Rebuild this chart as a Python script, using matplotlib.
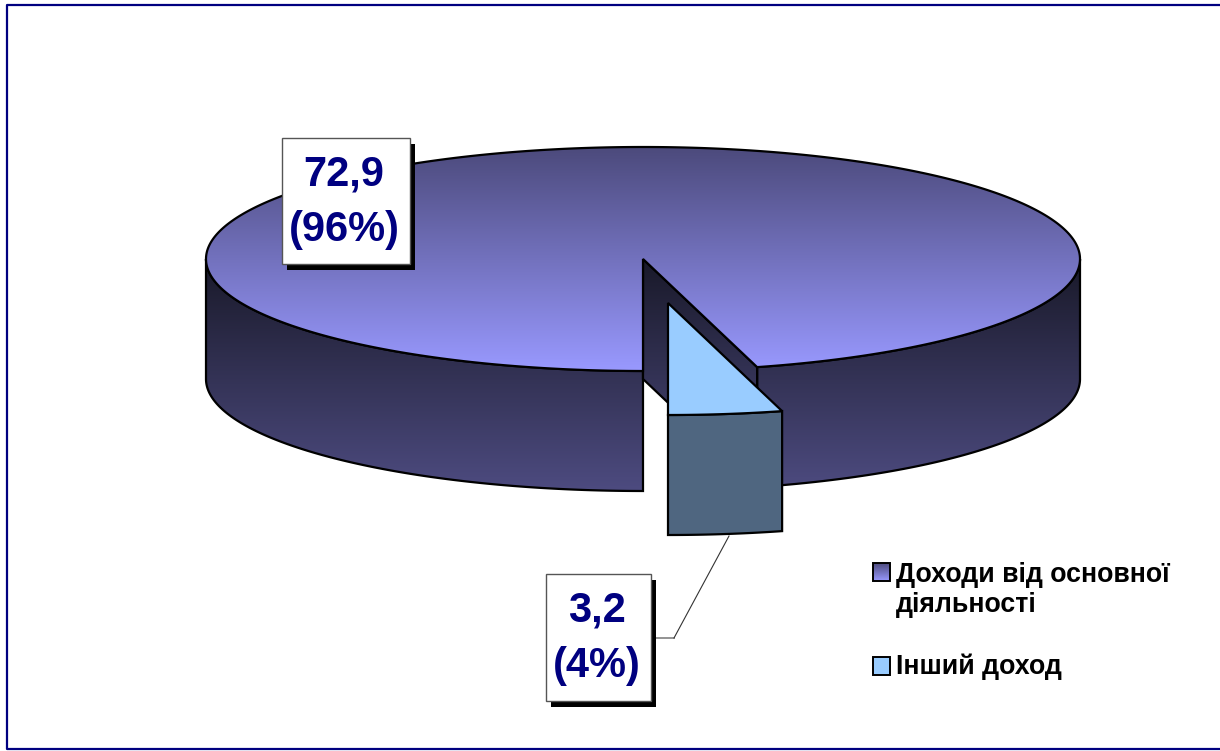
import numpy as np
import matplotlib
matplotlib.use("Agg")
import matplotlib.pyplot as plt
from matplotlib.colors import LinearSegmentedColormap
from matplotlib.patches import Polygon, Rectangle

plt.rcParams['font.family'] = ['Liberation Sans', 'DejaVu Sans']

# Data
categories = ["Доходи від основної\nдіяльності", "Інший доход"]
values = [72.9, 3.2]
point_labels = ["72,9\n(96%)", "3,2\n(4%)"]

# Pie geometry in pixels of the picture
cx, cy = 643, 259
rx, ry = 437, 112
depth = 120
explode_dx, explode_dy = 25, 44

navy = "#000080"

fig = plt.figure(figsize=(12.2, 7.51), dpi=100)
ax = fig.add_axes([0, 0, 1, 1])
ax.set_axis_off()


def rim(a0, a1, dx=0, dy=0, n=200):
    # angles in degrees, 0 is the front of the pie, going to the right
    a = np.radians(np.linspace(a0, a1, n))
    return np.column_stack([cx + dx + rx * np.sin(a), cy + dy + ry * np.cos(a)])


def fill_gradient(pts, c_top, c_bottom, y_top, y_bottom, lw=1.6, z=1):
    cmap = LinearSegmentedColormap.from_list("g", [c_top, c_bottom])
    poly = Polygon(pts, closed=True, facecolor="none", edgecolor="black", lw=lw, zorder=z + 0.1, joinstyle="miter")
    ax.add_patch(poly)
    xs, ys = pts[:, 0], pts[:, 1]
    im = ax.imshow(np.linspace(0, 1, 256).reshape(-1, 1), cmap=cmap, aspect="auto", zorder=z,
                   extent=[xs.min() - 1, xs.max() + 1, y_bottom, y_top], vmin=0, vmax=1)
    im.set_clip_path(Polygon(pts, closed=True, transform=ax.transData))


def side_wall(edge):
    return np.vstack([edge, (edge + [0, depth])[::-1]])


small_angle = 360 * values[1] / sum(values)

top_dark, top_light = "#4c4a7c", "#9999ff"
side_dark, side_light = "#191929", "#4d4b80"

# outer wall of the large slice, right and left of the front
fill_gradient(side_wall(rim(small_angle, 90)), side_dark, side_light, 259, 491, z=1)
fill_gradient(side_wall(rim(270, 360)), side_dark, side_light, 259, 491, z=1)

# cut wall of the large slice
edge_pt = rim(small_angle, small_angle, n=1)[0]
cut = np.array([[cx, cy], edge_pt, edge_pt + [0, depth], [cx, cy + depth]])
fill_gradient(cut, side_dark, side_light, 259, 491, z=2)

# top of the large slice
top_large = np.vstack([[cx, cy], rim(small_angle, 360, n=600)])
fill_gradient(top_large, top_dark, top_light, 147, 371, z=3)

# pulled out slice
edge_small = rim(0, small_angle, explode_dx, explode_dy, n=40)
ax.add_patch(Polygon(side_wall(edge_small), closed=True, facecolor="#4f6680", edgecolor="black", lw=1.6, zorder=4))
ax.add_patch(Polygon(np.vstack([[cx + explode_dx, cy + explode_dy], edge_small]), closed=True,
                     facecolor="#99ccff", edgecolor="black", lw=1.6, zorder=5))

# leader line of the small slice
ax.plot([656, 674], [638, 638], color="#808080", lw=1.2, zorder=2)
ax.plot([674, 729], [638, 536], color="#333333", lw=0.8, zorder=2)

# data labels
label_boxes = [(282, 138, 128, 126), (546, 574, 105, 127)]
for (bx, by, bw, bh), txt in zip(label_boxes, point_labels):
    ax.add_patch(Rectangle((bx + 5, by + 6), bw, bh, facecolor="black", edgecolor="none", zorder=6))
    ax.add_patch(Rectangle((bx, by), bw, bh, facecolor="white", edgecolor="#555555", lw=1, zorder=7))
    first, second = txt.split("\n")
    ax.text(bx + bw / 2 - 2, by + 37, first, color=navy, fontsize=30, fontweight="bold",
            ha="center", va="center", zorder=8)
    ax.text(bx + bw / 2 - 1.5, by + 92.5, second, color=navy, fontsize=30, fontweight="bold",
            ha="center", va="center", zorder=8)

# legend
fill_gradient(np.array([[873, 563], [890, 563], [890, 581], [873, 581]]), top_dark, top_light, 563, 581, lw=1.4, z=6)
ax.add_patch(Rectangle((873, 657), 17, 18, facecolor="#99ccff", edgecolor="black", lw=1.4, zorder=6))
first, second = categories[0].split("\n")
ax.text(896, 582, first, fontsize=19.3, fontweight="bold", color="black", va="baseline", zorder=8)
ax.text(896, 612, second, fontsize=19.3, fontweight="bold", color="black", va="baseline", zorder=8)
ax.text(896, 674, categories[1], fontsize=19.3, fontweight="bold", color="black", va="baseline", zorder=8)

# frame
ax.plot([1220, 7, 7, 1220], [5, 5, 749, 749], color=navy, lw=1.6, zorder=9)

ax.set_xlim(0, 1220)
ax.set_ylim(751, 0)
fig.savefig("out.png", dpi=100, facecolor="white")
